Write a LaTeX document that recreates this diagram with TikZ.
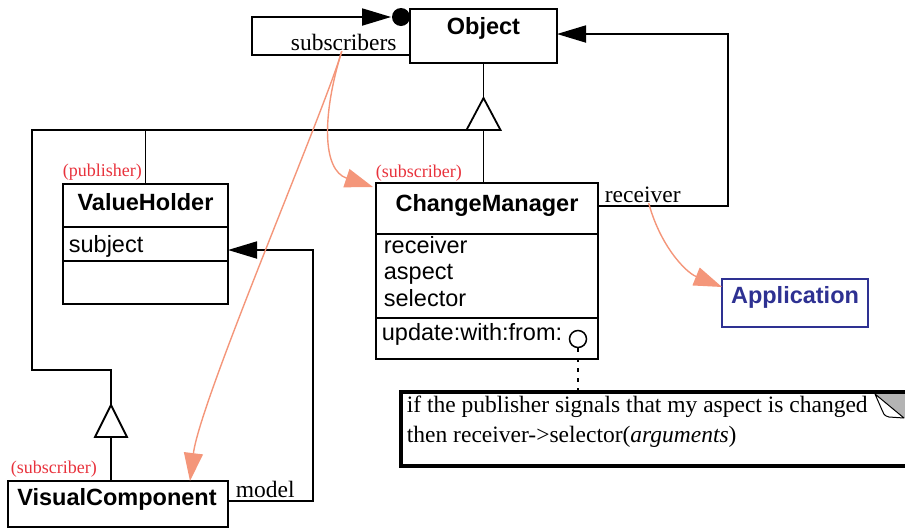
\documentclass[tikz,border=0pt]{standalone}
\usepackage{fontspec}
\setmainfont{Liberation Serif}
\setsansfont{Liberation Sans}
\usetikzlibrary{arrows.meta,calc}
\definecolor{salmon}{HTML}{F4967A}
\definecolor{rolered}{HTML}{E8323C}
\definecolor{appblue}{HTML}{2E3192}
\definecolor{foldgray}{HTML}{B4B4B4}
\begin{document}
\begin{tikzpicture}[x=1pt,y=-1pt,line width=1.8pt,
  box/.style={draw,line width=1.8pt,inner sep=0,outer sep=0,anchor=north west},
  ttl/.style={font=\sffamily\bfseries\fontsize{23.5}{28}\selectfont,inner sep=0,anchor=base},
  attr/.style={font=\sffamily\fontsize{23.5}{28}\selectfont,inner sep=0,anchor=base west},
  lbl/.style={font=\fontsize{23.5}{28}\selectfont,inner sep=0,anchor=base west},
  role/.style={font=\fontsize{18}{22}\selectfont,text=rolered,inner sep=0,anchor=base west},
  arr/.style={-{Triangle[length=29pt,width=17pt]}},
  flow/.style={draw=salmon,line width=1.4pt,-{Triangle[length=28pt,width=19pt]}},
  gen/.style={draw,fill=white,line width=1.8pt,line join=miter}]
\useasboundingbox (0,0) rectangle (905,528);

% ---- classes ----
\node[box,minimum width=147pt,minimum height=54pt] (obj) at (410,9) {};
\node[ttl] (objT) at (483.5,34) {Object};

\node[box,minimum width=165pt,minimum height=120pt] (vh) at (63,184) {};
\node[ttl] (vhT) at (145.5,210) {ValueHolder};
\draw (vh.west |- 0,227) -- (vh.east |- 0,227);
\draw (vh.west |- 0,261) -- (vh.east |- 0,261);
\node[attr] (vhA) at (68,252) {subject};
\node[role] (vhR) at (62,176) {(publisher)};

\node[box,minimum width=222pt,minimum height=176pt] (cm) at (376,183) {};
\node[ttl] (cmT) at (487,211) {ChangeManager};
\draw (cm.west |- 0,234) -- (cm.east |- 0,234);
\draw (cm.west |- 0,318) -- (cm.east |- 0,318);
\node[attr] (cmA1) at (383,253) {receiver};
\node[attr] (cmA2) at (383,279) {aspect};
\node[attr] (cmA3) at (383,306) {selector};
\node[attr] (cmOp) at (381,340) {update:with:from:};
\node[circle,draw,line width=1.5pt,minimum size=17pt,inner sep=0] (opc) at (578,339) {};
\node[role] (cmR) at (375,177) {(subscriber)};

\node[box,draw=appblue,line width=1.5pt,minimum width=146pt,minimum height=48pt] (app) at (722,279) {};
\node[ttl,text=appblue] (appT) at (795,303) {Application};

\node[box,minimum width=220pt,minimum height=46pt] (vc) at (8,481) {};
\node[ttl] (vcT) at (117,505) {VisualComponent};
\node[role] (vcR) at (10,473) {(subscriber)};

% ---- note with folded corner ----
\node[box,line width=3.4pt,minimum width=512pt,minimum height=74pt] (note) at (401,392) {};
\node[lbl] (n1) at (406,412) {if the publisher signals that my aspect is changed};
\node[lbl] (n2) at (406,442) {then receiver->selector(\textit{arguments})};
\fill[foldgray] (875,394) -- (906,394) -- (906,419) -- cycle;
\draw[line width=1pt,fill=white,line join=round] (875,394) -- (904,418) -- (889,417)
  .. controls (884,416) and (883,413) .. (882,410) -- cycle;
\draw[line width=1.5pt,dash pattern=on 4pt off 6pt] (opc.south) -- (opc.south |- note.north);

% ---- inheritance ----
\coordinate (g1) at (obj.south |- 0,98);
\coordinate (g1b) at ($(g1)+(0,32)$);
\draw (obj.south) -- (g1);
\draw[gen] (g1) -- ++(-17,32) -- ++(34,0) -- cycle;
\draw (g1b) -- (g1b |- cm.north);
\coordinate (g2) at (111,405);
\coordinate (g2b) at ($(g2)+(0,32)$);
\draw ($(g1b)+(-17,0)$) -- (32,130) -- (32,370) -| (g2);
\draw[gen] (g2) -- ++(-16,32) -- ++(32,0) -- cycle;
\draw (g2b) -- (g2b |- vc.north);
\draw (vh.north) -- (vh.north |- 0,130);

% ---- associations ----
\node[circle,fill,minimum size=18pt,inner sep=0] (dot) at (401,17) {};
\draw[arr] (obj.west |- 0,55) -| (252,17) -- (dot.west);
\node[lbl] (subs) at (290,50) {subscribers};

\draw[arr] (cm.east |- 0,206) -| (728,34) -- (obj.east |- 0,34);
\node[lbl] (recv) at (604,202) {receiver};

\draw[arr] (vc.east |- 0,501) -| (313,250) -- (vh.east |- 0,250);
\node[lbl] (model) at (235,497) {model};

% ---- dependency flows ----
\draw[flow] ([xshift=-2pt]subs.south) .. controls (322,115) and (322,170) .. ([shift={(-3pt,-4pt)}]cm.north west);
\draw[flow] ([xshift=-2pt]subs.south) .. controls (325,110) and (200,400) .. (vc.north -| 190,0);
\draw[flow] ([xshift=6pt]recv.south) .. controls (660,245) and (685,272) .. ([yshift=-8pt]app.north west);
\end{tikzpicture}
\end{document}
